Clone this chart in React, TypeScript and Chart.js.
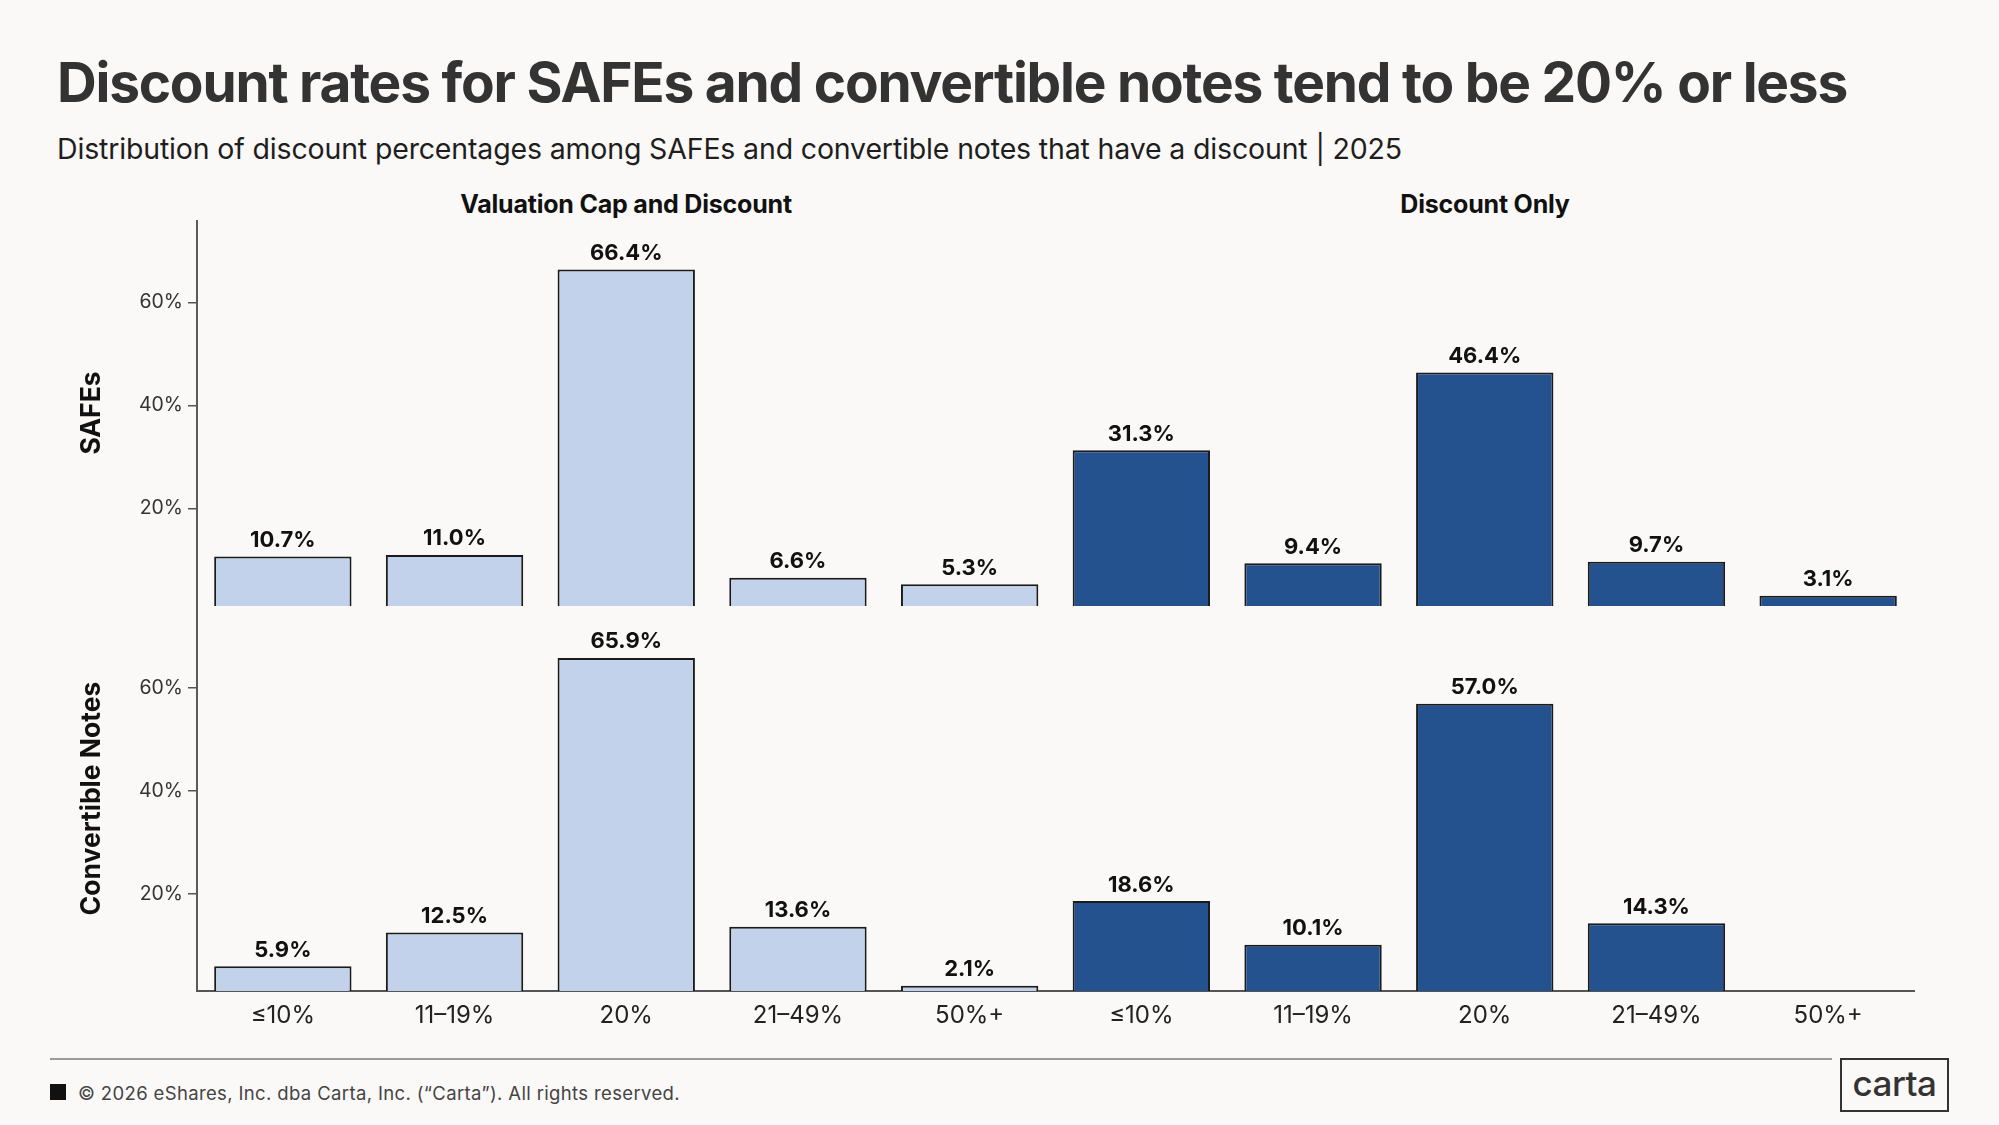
import React, { useEffect, useLayoutEffect, useRef } from "react";
import { Chart, registerables } from "chart.js";

Chart.register(...registerables);

// ---------- data ----------
const categories = ["≤10%", "11–19%", "20%", "21–49%", "50%+", "≤10%", "11–19%", "20%", "21–49%", "50%+"];
const groupNames = ["Valuation Cap and Discount", "Discount Only"];
const groupOfCategory = [0, 0, 0, 0, 0, 1, 1, 1, 1, 1];
const rowNames = ["SAFEs", "Convertible Notes"];
const safesValues = [10.7, 11.0, 66.4, 6.6, 5.3, 31.3, 9.4, 46.4, 9.7, 3.1];
const notesValues: (number | null)[] = [5.9, 12.5, 65.9, 13.6, 2.1, 18.6, 10.1, 57.0, 14.3, null];
const yTickValues = [20, 40, 60];
const yMin = 1.1;
const yMax = 76;

const titleText = "Discount rates for SAFEs and convertible notes tend to be 20% or less";
const subtitleText = "Distribution of discount percentages among SAFEs and convertible notes that have a discount | 2025";
const footerText = "© 2026 eShares, Inc. dba Carta, Inc. (“Carta”). All rights reserved.";
const logoText = "carta";

// ---------- style ----------
const BG = "#faf9f7";
const FONT = "Inter, 'Noto Sans', sans-serif";
const groupColors = ["#c1d2ea", "#24528f"];

Chart.defaults.font.family = FONT;

const valueLabelPlugin = {
  id: "valueLabels",
  afterDatasetsDraw(chart: any) {
    const { ctx } = chart;
    const meta = chart.getDatasetMeta(0);
    const data = chart.data.datasets[0].data as (number | null)[];
    ctx.save();
    ctx.font = `bold 22px ${FONT}`;
    ctx.fillStyle = "#111111";
    ctx.textAlign = "center";
    ctx.textBaseline = "alphabetic";
    meta.data.forEach((bar: any, i: number) => {
      const v = data[i];
      if (v == null) return;
      ctx.fillText(v.toFixed(1) + "%", bar.x, bar.y - 9.5);
    });
    ctx.restore();
  },
};

function Panel({ values, rowLabel, showX, top, height }: { values: (number | null)[]; rowLabel: string; showX: boolean; top: number; height: number }) {
  const ref = useRef<HTMLCanvasElement>(null);
  useEffect(() => {
    const chart = new Chart(ref.current as HTMLCanvasElement, {
      type: "bar",
      data: {
        labels: categories,
        datasets: [
          {
            data: values as any,
            backgroundColor: groupOfCategory.map((g) => groupColors[g]),
            borderColor: "#1b1b1b",
            borderWidth: 2,
            categoryPercentage: 0.8,
            barPercentage: 1,
          },
        ],
      },
      options: {
        animation: false,
        responsive: false,
        maintainAspectRatio: false,
        devicePixelRatio: 1,
        layout: { padding: { left: 0, right: 85, top: 0, bottom: 0 } },
        plugins: { legend: { display: false }, tooltip: { enabled: false } },
        scales: {
          x: {
            display: showX,
            offset: true,
            grid: { display: false, drawTicks: false },
            border: { display: true, color: "#555555", width: 2 },
            ticks: { font: { size: 24 }, color: "#222222", padding: 10, maxRotation: 0, autoSkip: false },
            afterFit: (s: any) => {
              s.height = showX ? 50 : 0;
              s.paddingLeft = 0;
              s.paddingRight = 0;
            },
          },
          y: {
            min: yMin,
            max: yMax,
            afterBuildTicks: (s: any) => {
              s.ticks = yTickValues.map((v) => ({ value: v }));
            },
            ticks: {
              callback: (v: any) => v + "%",
              font: { size: 19.5 },
              color: "#333333",
              padding: 5,
            },
            grid: { drawOnChartArea: false, drawTicks: true, tickLength: 9, color: "#555555", lineWidth: 1.5 },
            border: { display: true, color: "#5a5a5a", width: 2 },
            title: {
              display: true,
              text: rowLabel,
              font: { size: 26.5, weight: "bold" },
              color: "#111111",
              padding: { top: 76, bottom: 0 },
            },
            afterFit: (s: any) => {
              s.width = 197;
              s.paddingTop = 0;
              s.paddingBottom = 0;
            },
          },
        },
      } as any,
      plugins: [valueLabelPlugin],
    });
    return () => chart.destroy();
  }, []);
  return <canvas ref={ref} width={1999} height={height} style={{ position: "absolute", left: 0, top, width: 1999, height }} />;
}

function FitText({ text, width, style }: { text: string; width: number; style: React.CSSProperties }) {
  const ref = useRef<HTMLDivElement>(null);
  useLayoutEffect(() => {
    const fit = () => {
      const el = ref.current;
      if (!el) return;
      el.style.letterSpacing = "0px";
      const w = el.getBoundingClientRect().width;
      const ls = (width - w) / text.length;
      el.style.letterSpacing = ls + "px";
    };
    fit();
    (document as any).fonts?.ready?.then(fit);
  }, []);
  return (
    <div ref={ref} style={{ position: "absolute", whiteSpace: "nowrap", lineHeight: 1, ...style }}>
      {text}
    </div>
  );
}

export default function App() {
  return (
    <div style={{ position: "fixed", left: 0, top: 0, width: 1999, height: 1125, background: BG, overflow: "hidden", fontFamily: FONT }}>
      <FitText text={titleText} width={1790} style={{ left: 57, top: 55, fontSize: 55, fontWeight: 700, color: "#333333" }} />
      <FitText text={subtitleText} width={1345} style={{ left: 57, top: 135, fontSize: 28.5, fontWeight: 400, color: "#1e1e1e" }} />
      {groupNames.map((g, i) => (
        <div
          key={g}
          style={{
            position: "absolute",
            left: i === 0 ? 626 : 1485,
            top: 192,
            transform: "translateX(-50%)",
            whiteSpace: "nowrap",
            lineHeight: 1,
            fontSize: 25,
            fontWeight: 700,
            color: "#111111",
            letterSpacing: -0.2,
          }}
        >
          {g}
        </div>
      ))}
      <Panel values={safesValues} rowLabel={rowNames[0]} showX={false} top={220} height={386} />
      <Panel values={notesValues} rowLabel={rowNames[1]} showX={true} top={606} height={435} />
      <div style={{ position: "absolute", left: 50, top: 1058, width: 1782, height: 2, background: "#9a9a9a" }} />
      <div style={{ position: "absolute", left: 50, top: 1084, width: 16, height: 16, background: "#111111" }} />
      <FitText text={footerText} width={602} style={{ left: 78, top: 1084, fontSize: 18.5, color: "#444444" }} />
      <div
        style={{
          position: "absolute",
          left: 1840,
          top: 1058,
          width: 109,
          height: 54,
          boxSizing: "border-box",
          border: "2px solid #333333",
          display: "flex",
          alignItems: "center",
          justifyContent: "center",
          fontSize: 35,
          fontWeight: 500,
          color: "#333333",
          letterSpacing: -0.5,
          paddingBottom: 4,
        }}
      >
        {logoText}
      </div>
    </div>
  );
}
